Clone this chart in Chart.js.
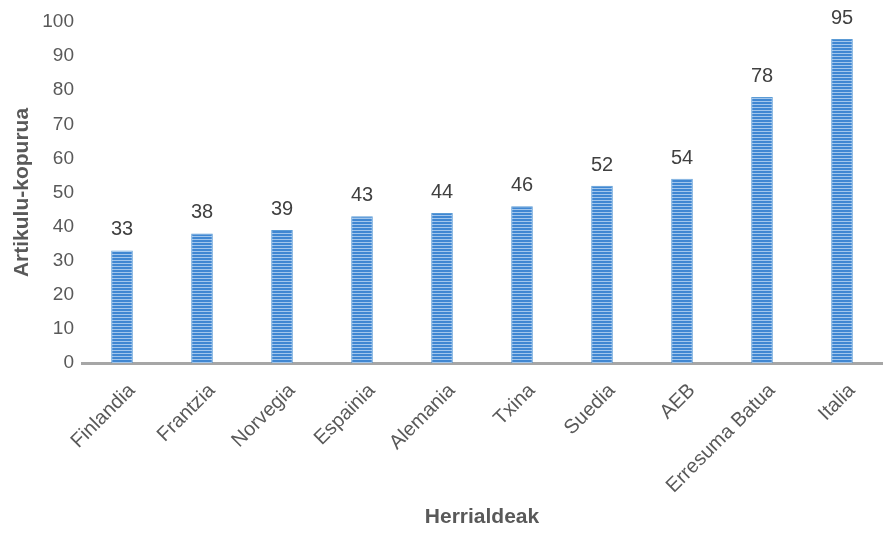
<!DOCTYPE html>
<html>
<head>
<meta charset="utf-8">
<script src="https://cdn.jsdelivr.net/npm/chart.js@4.4.1/dist/chart.umd.min.js"></script>
<style>
  html, body { margin: 0; padding: 0; background: #fff; }
  #wrap { width: 885px; height: 533px; }
</style>
</head>
<body>
<div id="wrap"><canvas id="articlesChart"></canvas></div>
<script>
// Data
const countries = ['Finlandia', 'Frantzia', 'Norvegia', 'Espainia', 'Alemania', 'Txina', 'Suedia', 'AEB', 'Erresuma Batua', 'Italia'];
const articleCounts = [33, 38, 39, 43, 44, 46, 52, 54, 78, 95];
const yTicks = [0, 10, 20, 30, 40, 50, 60, 70, 80, 90, 100];

const grey = '#595959';
const fontFamily = '"Liberation Sans", Arial, sans-serif';

// Horizontal stripe fill like the Excel pattern
function stripePattern() {
    const c = document.createElement('canvas');
    c.width = 3;
    c.height = 3;
    const g = c.getContext('2d');
    g.fillStyle = '#4087d2';
    g.fillRect(0, 0, 3, 3);
    g.fillStyle = '#a2c6ec';
    g.fillRect(0, 2, 3, 1);
    return g.createPattern(c, 'repeat');
}

// Value labels above each bar
const valueLabels = {
    id: 'valueLabels',
    afterDatasetsDraw(chart) {
        const ctx = chart.ctx;
        const meta = chart.getDatasetMeta(0);
        ctx.save();
        ctx.font = '20px ' + fontFamily;
        ctx.fillStyle = '#404040';
        ctx.textAlign = 'center';
        ctx.textBaseline = 'alphabetic';
        meta.data.forEach((bar, i) => {
            ctx.fillText(articleCounts[i], bar.x, bar.y - 15);
        });
        ctx.restore();
    }
};

const ctx = document.getElementById('articlesChart').getContext('2d');
const articlesChart = new Chart(ctx, {
    type: 'bar',
    data: {
        labels: countries,
        datasets: [{
            data: articleCounts,
            backgroundColor: stripePattern(),
            borderColor: '#5b9bd5',
            borderWidth: 1,
            categoryPercentage: 1,
            barPercentage: 0.27
        }]
    },
    options: {
        responsive: true,
        maintainAspectRatio: false,
        animation: false,
        layout: {
            padding: { top: 22, right: 3, bottom: 0, left: 0 }
        },
        plugins: {
            legend: { display: false },
            tooltip: { enabled: false }
        },
        scales: {
            x: {
                grid: { display: false, drawTicks: false },
                border: { display: true, color: '#a6a6a6', width: 3 },
                ticks: {
                    color: grey,
                    font: { family: fontFamily, size: 20 },
                    minRotation: 45,
                    maxRotation: 45,
                    autoSkip: false,
                    padding: 16,
                    labelOffset: 10
                },
                title: {
                    display: true,
                    text: 'Herrialdeak',
                    color: grey,
                    font: { family: fontFamily, size: 21, weight: 'bold' },
                    padding: { top: 0, bottom: 3 }
                },
                afterFit(scale) { scale.height = 170; }
            },
            y: {
                min: 0,
                max: 100,
                grid: { display: false, drawTicks: false },
                border: { display: false },
                afterBuildTicks(scale) {
                    scale.ticks = yTicks.map(v => ({ value: v }));
                },
                ticks: {
                    color: grey,
                    font: { family: fontFamily, size: 19 },
                    padding: 8
                },
                title: {
                    display: true,
                    text: 'Artikulu-kopurua',
                    color: grey,
                    font: { family: fontFamily, size: 21, weight: 'bold' },
                    padding: { top: 10, bottom: 0 }
                },
                afterFit(scale) { scale.width = 82; }
            }
        }
    },
    plugins: [valueLabels]
});
</script>
</body>
</html>
